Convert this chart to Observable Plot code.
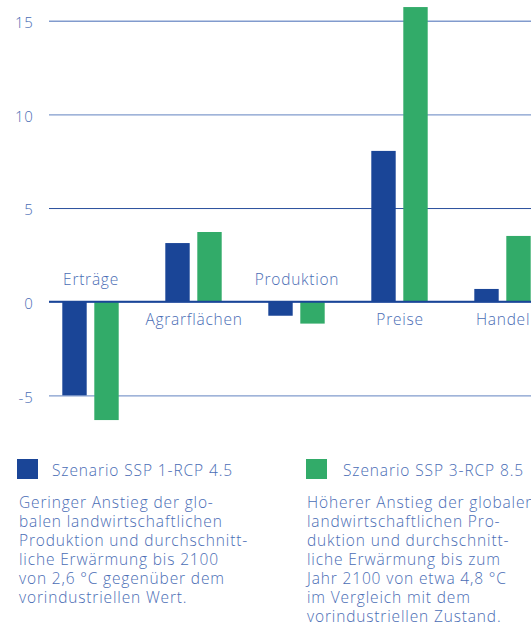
<!DOCTYPE html>
<html><head><meta charset="utf-8">
<script src="https://cdn.jsdelivr.net/npm/d3@7"></script>
<script src="https://cdn.jsdelivr.net/npm/@observablehq/plot@0.6"></script>
<style>
body{margin:0;background:#fff;}
#wrap{position:relative;width:531px;height:624px;overflow:hidden;font-family:"Open Sans",sans-serif;font-weight:300;color:#4a6db5;background:#fff;}
#chart{position:absolute;left:0;top:0;width:531px;height:440px;overflow:hidden;}
.sw{position:absolute;width:21px;height:20px;top:459px;}
.lt{position:absolute;top:459.5px;line-height:20px;font-size:15.5px;letter-spacing:0.9px;white-space:nowrap;}
.desc{position:absolute;top:492.5px;font-size:15.5px;line-height:19px;letter-spacing:0.85px;white-space:nowrap;}
</style>
</head><body>
<div id="wrap">
  <div id="chart"></div>
  <div class="sw" id="sw1" style="left:17px"></div>
  <div class="lt" id="lt1" style="left:52px"></div>
  <div class="desc" id="d1" style="left:19px"></div>
  <div class="sw" id="sw2" style="left:306px"></div>
  <div class="lt" id="lt2" style="left:343px"></div>
  <div class="desc" id="d2" style="left:307px"></div>
</div>
<script>
const categories = ["Erträge", "Agrarflächen", "Produktion", "Preise", "Handel"];
const ssp1 = [-5.0, 3.13, -0.75, 8.05, 0.68];
const ssp3 = [-6.32, 3.72, -1.17, 15.73, 3.51];
const yTicks = [-5, 0, 5, 10, 15];
const seriesNames = ["Szenario SSP 1-RCP 4.5", "Szenario SSP 3-RCP 8.5"];
const seriesDesc = [
  ["Geringer Anstieg der glo-", "balen landwirtschaftlichen", "Produktion und durchschnitt-", "liche Erwärmung bis 2100", "von 2,6 °C gegenüber dem", "vorindustriellen Wert."],
  ["Höherer Anstieg der globalen", "landwirtschaftlichen Pro-", "duktion und durchschnitt-", "liche Erwärmung bis zum", "Jahr 2100 von etwa 4,8 °C", "im Vergleich mit dem", "vorindustriellen Zustand."]
];
const colors = ["#1a4597", "#32ab69"];
const textColor = "#4a6db5";

const rows1 = categories.map((c, i) => ({category: c, value: ssp1[i]}));
const rows3 = categories.map((c, i) => ({category: c, value: ssp3[i]}));
const labelsAbove = categories.filter((c, i) => ssp1[i] < 0);
const labelsBelow = categories.filter((c, i) => ssp1[i] >= 0);

const plot = Plot.plot({
  width: 531, height: 440,
  marginLeft: 49, marginRight: 0, marginTop: 2, marginBottom: 7.2,
  x: {domain: categories, range: [37.7, 555.7], padding: 0, axis: null},
  y: {domain: [-7, 16]},
  style: {fontFamily: "Open Sans", fontWeight: 300, fontSize: "15.5px", letterSpacing: "0.75px", color: textColor, background: "white", overflow: "hidden"},
  marks: [
    Plot.ruleY(yTicks.filter(t => t !== 5), {stroke: "#819bcd", strokeWidth: 1.3}),
    Plot.ruleY([5], {stroke: "#2a4f9c", strokeWidth: 1}),
    Plot.barY(rows1, {x: "category", y: "value", fill: colors[0], dx: -16, insetLeft: 39.3, insetRight: 39.3}),
    Plot.barY(rows3, {x: "category", y: "value", fill: colors[1], dx: 16, insetLeft: 39.3, insetRight: 39.3}),
    Plot.ruleY([0], {stroke: colors[0], strokeWidth: 2, dy: -0.5}),
    Plot.axisY({ticks: yTicks, tickSize: 0, tickPadding: 16, tickFormat: d => String(d), fill: textColor, fontSize: 15, label: null, dy: 2}),
    Plot.text(labelsAbove, {x: d => d, y: () => 0, text: d => d, lineAnchor: "bottom", dy: -17, fill: textColor, fontSize: 15.5}),
    Plot.text(labelsBelow, {x: d => d, y: () => 0, text: d => d, lineAnchor: "bottom", dy: 23, fill: textColor, fontSize: 15.5})
  ]
});
document.getElementById("chart").appendChild(plot);
document.getElementById("sw1").style.background = colors[0];
document.getElementById("sw2").style.background = colors[1];
document.getElementById("lt1").textContent = seriesNames[0];
document.getElementById("lt2").textContent = seriesNames[1];
document.getElementById("d1").innerHTML = seriesDesc[0].join("<br>");
document.getElementById("d2").innerHTML = seriesDesc[1].join("<br>");
</script>
</body></html>
